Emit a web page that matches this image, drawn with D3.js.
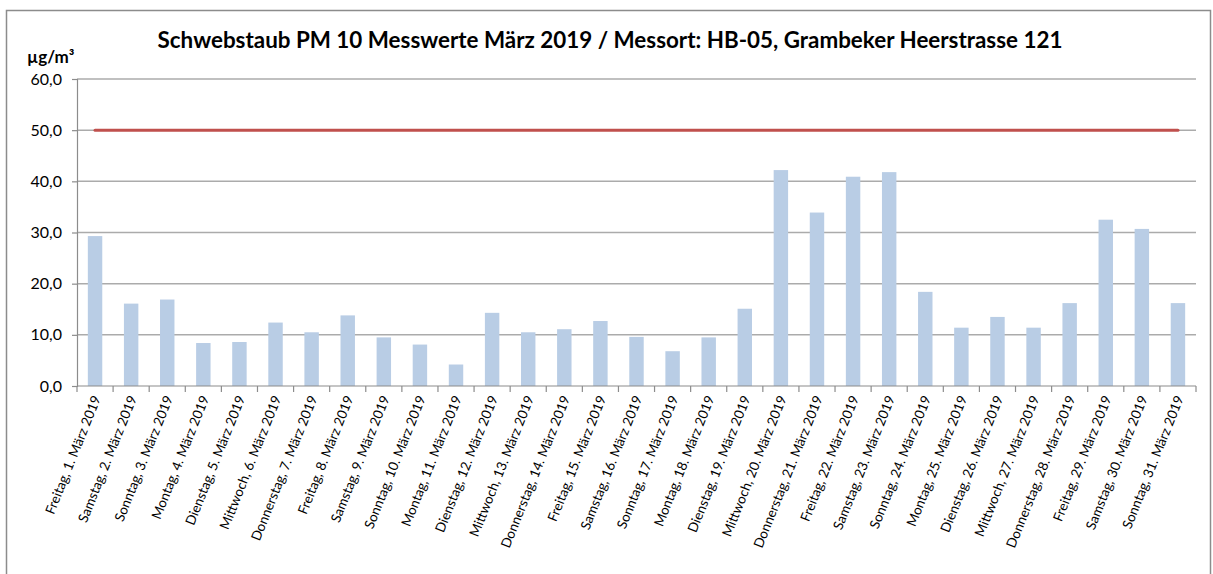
<!DOCTYPE html>
<html>
<head>
<meta charset="utf-8">
<script src="https://cdn.jsdelivr.net/npm/d3@7"></script>
<style>
  body { margin: 0; background: #fff; }
  svg { display: block; font-family: Lato, "Open Sans", sans-serif; }
</style>
</head>
<body>
<svg id="chart"></svg>
<script>
  var title = "Schwebstaub PM 10 Messwerte März 2019 / Messort: HB-05, Grambeker Heerstrasse 121";
  var unit = "µg/m³";

  var categories = [
    "Freitag, 1. März 2019", "Samstag, 2. März 2019", "Sonntag, 3. März 2019",
    "Montag, 4. März 2019", "Dienstag, 5. März 2019", "Mittwoch, 6. März 2019",
    "Donnerstag, 7. März 2019", "Freitag, 8. März 2019", "Samstag, 9. März 2019",
    "Sonntag, 10. März 2019", "Montag, 11. März 2019", "Dienstag, 12. März 2019",
    "Mittwoch, 13. März 2019", "Donnerstag, 14. März 2019", "Freitag, 15. März 2019",
    "Samstag, 16. März 2019", "Sonntag, 17. März 2019", "Montag, 18. März 2019",
    "Dienstag, 19. März 2019", "Mittwoch, 20. März 2019", "Donnerstag, 21. März 2019",
    "Freitag, 22. März 2019", "Samstag, 23. März 2019", "Sonntag, 24. März 2019",
    "Montag, 25. März 2019", "Dienstag, 26. März 2019", "Mittwoch, 27. März 2019",
    "Donnerstag, 28. März 2019", "Freitag, 29. März 2019", "Samstag, 30. März 2019",
    "Sonntag, 31. März 2019"
  ];

  var values = [
    29.3, 16.1, 16.9, 8.4, 8.6, 12.4, 10.5, 13.8, 9.5, 8.1,
    4.2, 14.3, 10.5, 11.1, 12.7, 9.6, 6.8, 9.5, 15.1, 42.2,
    33.9, 40.9, 41.8, 18.4, 11.4, 13.5, 11.4, 16.2, 32.5, 30.7,
    16.2
  ];

  var limitValue = 50;
  var yTicks = [0, 10, 20, 30, 40, 50, 60];

  var svgWidth = 1213, svgHeight = 574;
  var margin = { top: 79, right: 17, bottom: 188, left: 77 };
  var width = svgWidth - margin.left - margin.right;
  var height = svgHeight - margin.top - margin.bottom;

  var svg = d3.select("#chart")
    .attr("width", svgWidth)
    .attr("height", svgHeight);

  // outer frame
  svg.append("rect")
    .attr("x", 6.5).attr("y", 10.5)
    .attr("width", 1204).attr("height", 570)
    .attr("fill", "none")
    .attr("stroke", "#8c8c8c")
    .attr("stroke-width", 1.5);

  svg.append("text")
    .attr("x", 610).attr("y", 48)
    .attr("text-anchor", "middle")
    .attr("font-weight", "bold")
    .attr("font-size", 22.4)
    .attr("fill", "#000")
    .text(title);

  svg.append("text")
    .attr("x", 27).attr("y", 63)
    .attr("font-weight", "bold")
    .attr("font-size", 17)
    .attr("fill", "#000")
    .text(unit);

  var g = svg.append("g")
    .attr("transform", "translate(" + margin.left + "," + margin.top + ")");

  var x = d3.scaleBand().domain(categories).range([0, width]).paddingInner(0.6).paddingOuter(0.3);
  var y = d3.scaleLinear().domain([0, 60]).range([height, 0]);

  // gridlines
  g.append("g")
    .selectAll("line")
    .data(yTicks.filter(function(d) { return d > 0; }))
    .enter()
    .append("line")
    .attr("x1", 0).attr("x2", width)
    .attr("y1", function(d) { return y(d); })
    .attr("y2", function(d) { return y(d); })
    .attr("stroke", "#ababab")
    .attr("stroke-width", 1.5);

  // bars
  g.selectAll(".bar")
    .data(values)
    .enter()
    .append("rect")
    .attr("class", "bar")
    .attr("x", function(d, i) { return x(categories[i]); })
    .attr("y", function(d) { return y(d); })
    .attr("width", x.bandwidth())
    .attr("height", function(d) { return height - y(d); })
    .attr("fill", "#b9cde5");

  // y axis
  var yAxis = d3.axisLeft(y)
    .tickValues(yTicks)
    .tickSize(5)
    .tickPadding(10)
    .tickFormat(function(d) { return d3.format(".1f")(d).replace(".", ","); });

  var yg = g.append("g").call(yAxis);
  yg.selectAll("line").attr("stroke", "#8c8c8c").attr("stroke-width", 1.2);
  yg.select(".domain").attr("stroke", "#8c8c8c").attr("stroke-width", 1.2);
  yg.selectAll("text")
    .attr("font-family", "Lato, sans-serif")
    .attr("font-size", 16)
    .attr("fill", "#000");

  // x axis: ticks between categories
  var step = x.step();
  var bounds = d3.range(categories.length + 1);
  var xg = g.append("g").attr("transform", "translate(0," + height + ")");
  xg.append("line")
    .attr("x1", 0).attr("x2", width)
    .attr("stroke", "#8c8c8c").attr("stroke-width", 1.2);
  xg.selectAll(".tick")
    .data(bounds)
    .enter()
    .append("line")
    .attr("class", "tick")
    .attr("x1", function(d) { return d * step; })
    .attr("x2", function(d) { return d * step; })
    .attr("y1", 0).attr("y2", 6)
    .attr("stroke", "#8c8c8c").attr("stroke-width", 1.2);

  xg.selectAll(".lbl")
    .data(categories)
    .enter()
    .append("text")
    .attr("class", "lbl")
    .attr("text-anchor", "end")
    .attr("font-size", 13.5)
    .attr("fill", "#000")
    .attr("transform", function(d) {
      return "translate(" + (x(d) + x.bandwidth() / 2 + 6) + ",12) rotate(-68)";
    })
    .text(function(d) { return d; });

  // limit line
  var line = d3.line()
    .x(function(d) { return x(d) + x.bandwidth() / 2; })
    .y(function() { return y(limitValue); });

  g.append("path")
    .datum(categories)
    .attr("fill", "none")
    .attr("stroke", "#c0504d")
    .attr("stroke-width", 3)
    .attr("stroke-linecap", "round")
    .attr("d", line);
</script>
</body>
</html>
